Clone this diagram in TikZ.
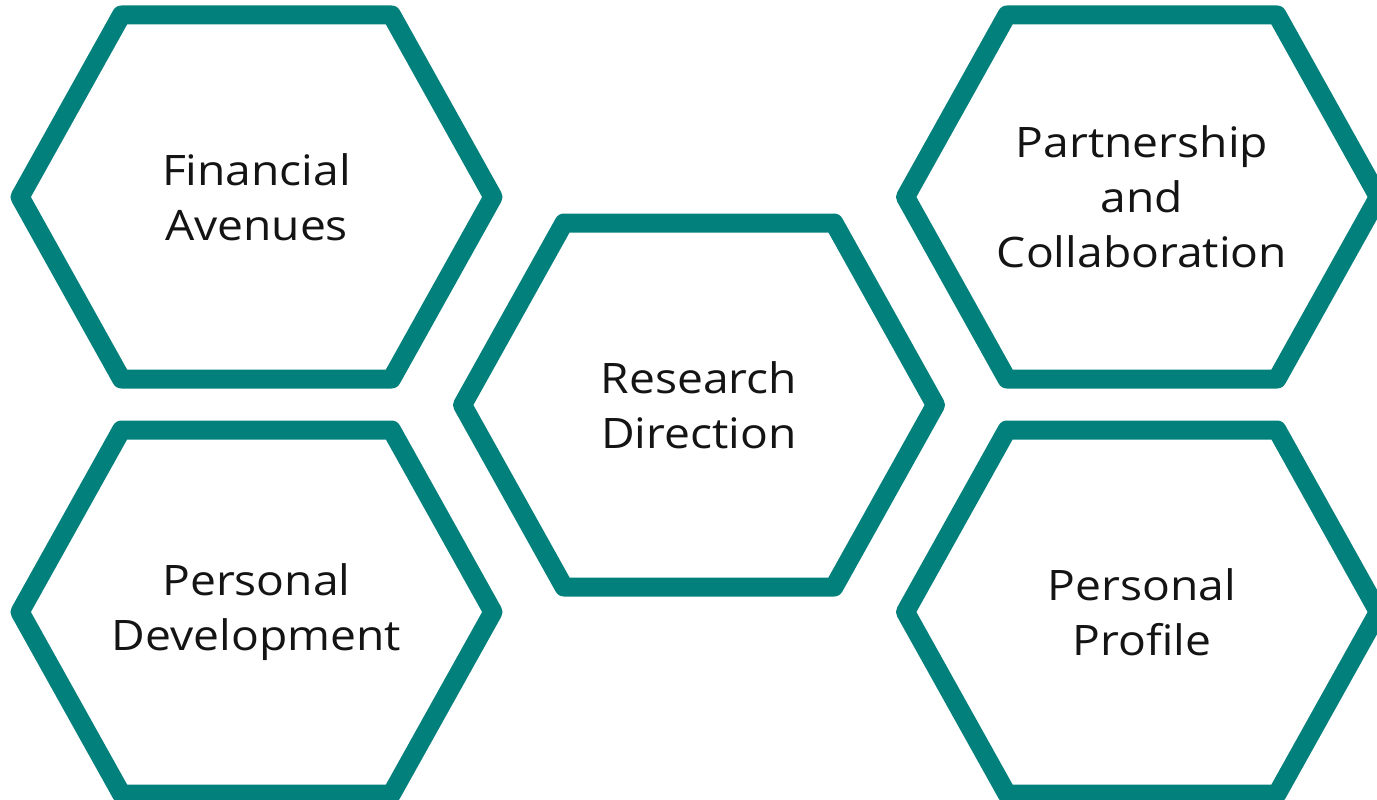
\documentclass[tikz,border=0pt]{standalone}
\usepackage{fontspec}
\setmainfont[FakeStretch=1.1]{Open Sans}
\definecolor{teal1}{HTML}{02807C}
\definecolor{txt}{HTML}{141414}
\tikzset{
  hexline/.style={draw=teal1, line width=19pt, line join=round},
  label/.style={align=center, text=txt, font=\fontsize{42}{55}\selectfont, inner sep=0pt}
}
\newcommand\hexaround[1]{%
  \draw[hexline] ([shift={(-236.5,0)}]#1.center) -- ([shift={(-135,-182)}]#1.center) -- ([shift={(135,-182)}]#1.center) -- ([shift={(236.5,0)}]#1.center) -- ([shift={(135,182)}]#1.center) -- ([shift={(-135,182)}]#1.center) -- cycle;}
\begin{document}
\begin{tikzpicture}[x=1pt,y=-1pt]
\useasboundingbox (0,0) rectangle (1377,800);
\clip (0,0) rectangle (1377,800);
\fill[white] (0,0) rectangle (1377,800);
\node[label] (fa) at (256.5,197) {Financial\\Avenues};
\node[label] (pd) at (256.5,612) {Personal\\Development};
\node[label] (rd) at (699,405) {Research\\Direction};
\node[label] (pc) at (1142,197) {Partnership\\and\\Collaboration};
\node[label] (pp) at (1142,612) {Personal\\Profile};
\hexaround{fa}
\hexaround{pd}
\hexaround{rd}
\hexaround{pc}
\hexaround{pp}
\end{tikzpicture}
\end{document}
